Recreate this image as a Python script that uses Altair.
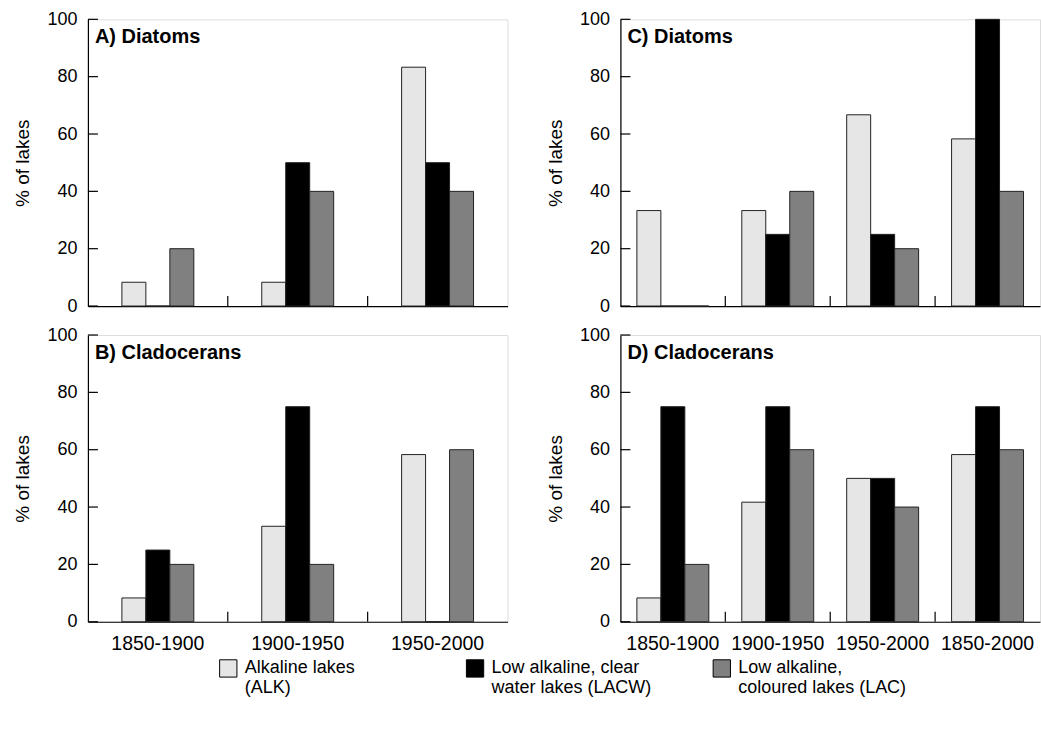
import altair as alt
import pandas as pd

# ---- data ----
series_names = ["Alkaline lakes|(ALK)", "Low alkaline, clear|water lakes (LACW)", "Low alkaline,|coloured lakes (LAC)"]
colors = ["#e6e6e6", "#000000", "#808080"]

periods_left = ["1850-1900", "1900-1950", "1950-2000"]
periods_right = ["1850-1900", "1900-1950", "1950-2000", "1850-2000"]

a_alk = [8.3, 8.3, 83.3]
a_lacw = [0, 50, 50]
a_lac = [20, 40, 40]

b_alk = [8.3, 33.3, 58.3]
b_lacw = [25, 75, 0]
b_lac = [20, 20, 60]

c_alk = [33.3, 33.3, 66.7, 58.3]
c_lacw = [0, 25, 25, 100]
c_lac = [0, 40, 20, 40]

d_alk = [8.3, 41.7, 50, 58.3]
d_lacw = [75, 75, 50, 75]
d_lac = [20, 60, 40, 60]

y_ticks = [0, 20, 40, 60, 80, 100]

FONT = "Liberation Sans"
W, H = 420, 287
TICK = 10
GROUP = 72  # pixel width of the three bars of one period

legend_def = alt.Legend(
    orient="none", legendX=131, legendY=640, direction="horizontal", columns=3,
    title=None, symbolType="square", symbolSize=300, symbolStrokeColor="black",
    symbolStrokeWidth=1, symbolOpacity=1, labelFontSize=18, labelFont=FONT,
    labelColor="black", labelExpr="split(datum.label, '|')", gridAlign="all",
    columnPadding=50, labelOffset=7, labelLimit=400,
)
color_scale = alt.Scale(domain=series_names, range=colors)


def panel(title, periods, alk, lacw, lac, show_labels):
    rows = []
    for i, p in enumerate(periods):
        for k, vals in zip(series_names, [alk, lacw, lac]):
            rows.append({"period": p, "series": k, "value": vals[i]})
    df = pd.DataFrame(rows)

    step = W / len(periods)
    pin = (step - GROUP) / step
    gap = (step - GROUP) / 2

    x_axis = alt.Axis(title=None, labels=show_labels, ticks=False, labelAngle=0,
                      labelFontSize=19.5, labelPadding=13, labelOverlap=False,
                      labelColor="black", domainColor="black", domainWidth=1.2,
                      labelFont=FONT)
    y_axis = alt.Axis(title="% of lakes", values=y_ticks, ticks=False, grid=False,
                      labelFontSize=18, labelPadding=11, labelColor="black",
                      titleFontSize=19, titleFontWeight="normal", titleColor="black",
                      titlePadding=14, domainColor="black", domainWidth=1.2,
                      labelFont=FONT, titleFont=FONT)
    x_scale = alt.Scale(domain=periods, paddingInner=pin, paddingOuter=pin / 2)
    y_scale = alt.Scale(domain=[0, 100], nice=False)

    bars = alt.Chart(df).mark_bar(stroke="#222222", strokeWidth=1).encode(
        x=alt.X("period:N", scale=x_scale, axis=x_axis, sort=periods),
        xOffset=alt.XOffset("series:N", sort=series_names,
                            scale=alt.Scale(domain=series_names, paddingInner=0, paddingOuter=0)),
        y=alt.Y("value:Q", scale=y_scale, axis=y_axis),
        color=alt.Color("series:N", scale=color_scale, legend=legend_def),
    )

    bdf = pd.DataFrame({"period": periods[1:]})
    xticks = alt.Chart(bdf).mark_rule(color="black", strokeWidth=1.2, xOffset=-gap).encode(
        x=alt.X("period:N", scale=x_scale, axis=x_axis, bandPosition=0, sort=periods),
        y=alt.value(H),
        y2=alt.value(H - TICK),
    )

    tdf = pd.DataFrame({"value": y_ticks})
    yticks = alt.Chart(tdf).mark_rule(color="black", strokeWidth=1.2).encode(
        y=alt.Y("value:Q", scale=y_scale, axis=y_axis),
        x=alt.value(0),
        x2=alt.value(TICK),
    )

    ldf = pd.DataFrame({"label": [title]})
    label = alt.Chart(ldf).mark_text(align="left", baseline="middle", fontSize=20,
                                     fontWeight="bold", font=FONT, color="black").encode(
        text="label:N", x=alt.value(7), y=alt.value(18))

    return alt.layer(bars, xticks, yticks, label).properties(width=W, height=H)


pA = panel("A) Diatoms", periods_left, a_alk, a_lacw, a_lac, False)
pB = panel("B) Cladocerans", periods_left, b_alk, b_lacw, b_lac, True)
pC = panel("C) Diatoms", periods_right, c_alk, c_lacw, c_lac, False)
pD = panel("D) Cladocerans", periods_right, d_alk, d_lacw, d_lac, True)

top = alt.hconcat(pA, pC, spacing=37)
bottom = alt.hconcat(pB, pD, spacing=37)

chart = alt.vconcat(top, bottom, spacing=9).properties(
    padding={"left": 13, "top": 9, "right": 0, "bottom": 0}
).configure_view(stroke="black", strokeWidth=1).configure(font=FONT)

chart.save("out.html", embed_options={"renderer": "svg", "actions": False})
